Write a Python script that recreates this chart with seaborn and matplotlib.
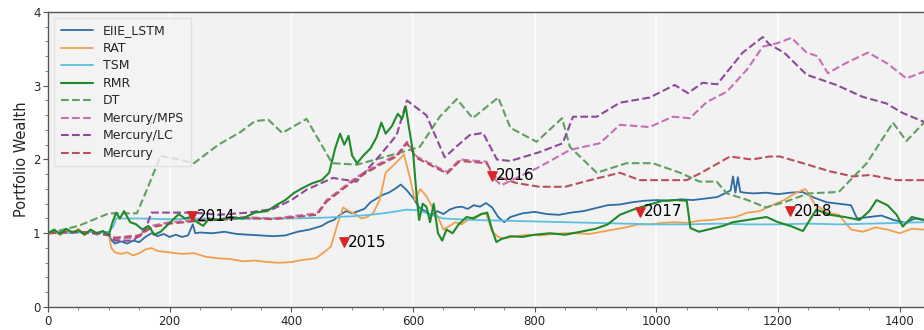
import numpy as np
import pandas as pd
import matplotlib
matplotlib.use("Agg")
import matplotlib.pyplot as plt
import seaborn as sns
from matplotlib.ticker import MultipleLocator

# ---------------- data ----------------
eiie = [(0,1.00),(10,1.03),(20,0.98),(30,1.04),(40,1.00),(50,1.05),(60,0.99),(70,1.03),(80,0.98),(90,1.02),
        (100,0.97),(105,0.90),(110,0.86),(120,0.89),(130,0.86),(140,0.90),(150,0.88),(160,0.95),(170,1.00),(180,0.96),
        (190,0.99),(200,0.95),(210,0.98),(220,0.95),(230,0.97),(238,1.12),(242,1.00),(250,1.01),(270,1.00),(290,1.02),
        (310,0.99),(330,0.98),(350,0.97),(370,0.96),(390,0.97),(410,1.02),(430,1.05),(450,1.10),(460,1.15),(470,1.18),
        (480,1.25),(490,1.30),(500,1.27),(510,1.30),(520,1.33),(530,1.42),(540,1.47),(550,1.52),(560,1.55),(570,1.60),
        (580,1.66),(590,1.58),(600,1.48),(610,1.35),(620,1.30),(630,1.24),(640,1.30),(650,1.26),(660,1.32),(670,1.35),
        (680,1.36),(690,1.33),(700,1.38),(710,1.36),(720,1.41),(730,1.35),(740,1.22),(750,1.15),(760,1.22),(780,1.27),
        (800,1.29),(820,1.26),(840,1.25),(860,1.28),(880,1.30),(900,1.34),(920,1.38),(940,1.39),(960,1.42),(980,1.44),
        (1000,1.45),(1020,1.44),(1040,1.46),(1060,1.45),(1080,1.47),(1100,1.49),(1115,1.55),(1122,1.58),(1126,1.77),
        (1130,1.55),(1134,1.76),(1138,1.56),(1145,1.55),(1160,1.54),(1180,1.55),(1200,1.53),(1220,1.55),(1240,1.56),
        (1260,1.48),(1280,1.42),(1300,1.40),(1320,1.38),(1330,1.20),(1350,1.22),(1370,1.24),(1390,1.18),(1410,1.14),
        (1425,1.20),(1440,1.18)]

rat = [(0,1.00),(10,1.04),(20,0.98),(30,1.05),(40,1.00),(50,1.06),(60,0.98),(70,1.04),(80,0.99),(90,1.02),
       (100,0.97),(104,0.80),(110,0.74),(120,0.72),(130,0.74),(140,0.70),(150,0.73),(160,0.78),(170,0.80),(180,0.76),
       (190,0.75),(200,0.74),(220,0.72),(240,0.73),(260,0.68),(280,0.66),(300,0.65),(320,0.62),(340,0.63),(360,0.61),
       (380,0.60),(400,0.61),(420,0.64),(440,0.66),(455,0.75),(465,0.82),(475,1.10),(485,1.35),(495,1.30),(505,1.26),
       (515,1.20),(525,1.22),(535,1.28),(545,1.45),(555,1.82),(565,1.90),(575,1.98),(585,2.07),(595,1.75),(603,1.45),
       (612,1.60),(622,1.50),(632,1.35),(642,1.20),(650,1.05),(660,1.10),(670,1.15),(680,1.12),(690,1.18),(700,1.22),
       (710,1.25),(720,1.27),(730,1.02),(740,0.95),(750,0.93),(770,0.96),(790,0.98),(810,0.97),(830,0.99),(850,1.00),
       (870,1.00),(890,0.99),(910,1.02),(930,1.05),(950,1.08),(970,1.12),(990,1.12),(1010,1.14),(1030,1.15),(1050,1.14),
       (1070,1.17),(1090,1.18),(1110,1.20),(1130,1.22),(1150,1.28),(1170,1.30),(1190,1.38),(1210,1.45),(1230,1.55),
       (1245,1.60),(1260,1.40),(1280,1.28),(1300,1.25),(1320,1.05),(1340,1.02),(1360,1.08),(1380,1.05),(1400,1.00),
       (1420,1.06),(1440,1.05)]

tsm = [(0,1.00),(20,1.01),(40,1.00),(60,1.02),(80,1.01),(100,1.02),(108,1.10),(112,1.20),(150,1.20),(200,1.19),
       (250,1.20),(300,1.19),(350,1.20),(400,1.20),(450,1.21),(500,1.23),(530,1.25),(560,1.28),(590,1.32),(610,1.31),
       (630,1.25),(650,1.20),(700,1.18),(750,1.17),(800,1.16),(850,1.15),(900,1.14),(950,1.13),(1000,1.12),(1050,1.12),
       (1100,1.13),(1150,1.12),(1200,1.12),(1250,1.13),(1300,1.12),(1350,1.13),(1400,1.14),(1440,1.15)]

rmr = [(0,1.00),(10,1.05),(20,0.99),(30,1.06),(40,1.01),(50,1.04),(60,0.98),(70,1.05),(80,1.00),(90,1.03),
       (100,0.98),(106,1.15),(112,1.28),(118,1.20),(125,1.30),(135,1.15),(145,1.12),(155,1.05),(165,1.10),(175,0.98),
       (185,1.02),(195,1.10),(205,1.18),(215,1.26),(225,1.20),(235,1.22),(245,1.15),(255,1.10),(265,1.20),(280,1.18),
       (300,1.22),(320,1.20),(340,1.28),(360,1.30),(375,1.38),(390,1.45),(405,1.55),(420,1.62),(435,1.68),(450,1.72),
       (462,1.82),(472,2.15),(480,2.35),(487,2.20),(494,2.32),(500,2.05),(508,1.95),(518,2.05),(530,2.15),(540,2.30),
       (548,2.50),(555,2.35),(565,2.45),(575,2.62),(582,2.55),(588,2.72),(593,2.45),(600,2.10),(606,1.50),(610,1.18),
       (616,1.40),(622,1.36),(628,1.15),(634,1.40),(641,1.00),(648,0.90),(655,1.05),(665,1.00),(675,1.12),(688,1.22),
       (700,1.20),(712,1.26),(722,1.28),(730,1.05),(737,0.88),(745,0.92),(760,0.96),(780,0.95),(800,0.98),(825,1.00),
       (850,0.98),(875,1.02),(900,1.06),(920,1.12),(940,1.25),(962,1.32),(985,1.38),(1010,1.44),(1033,1.45),(1050,1.44),
       (1056,1.07),(1070,1.02),(1090,1.06),(1110,1.10),(1126,1.15),(1150,1.18),(1181,1.22),(1200,1.15),(1220,1.10),
       (1241,1.03),(1263,1.32),(1285,1.25),(1310,1.22),(1334,1.18),(1350,1.30),(1362,1.45),(1380,1.38),(1395,1.25),
       (1405,1.09),(1420,1.22),(1440,1.18)]

dt = [(0,1.00),(50,1.10),(100,1.27),(146,1.27),(163,1.60),(185,2.05),(215,2.00),(240,1.95),(280,2.20),(316,2.37),
      (340,2.52),(362,2.54),(385,2.36),(425,2.55),(467,1.95),(508,1.93),(560,2.05),(611,2.17),(644,2.58),(672,2.82),
      (698,2.56),(740,2.84),(760,2.43),(803,2.24),(845,2.56),(858,2.17),(902,1.82),(951,1.95),(994,1.95),(1039,1.82),
      (1071,1.70),(1099,1.70),(1116,1.54),(1150,1.45),(1180,1.35),(1210,1.42),(1250,1.54),(1300,1.56),(1346,1.95),
      (1389,2.50),(1411,2.25),(1440,2.50)]

mps = [(0,1.00),(50,1.01),(100,0.98),(110,0.92),(150,0.95),(170,1.10),(200,1.15),(250,1.18),(300,1.20),(316,1.22),
       (370,1.20),(442,1.27),(458,1.45),(507,1.76),(546,1.95),(573,2.06),(590,2.24),(606,2.04),(656,1.83),(677,2.00),
       (721,1.97),(731,1.76),(745,1.65),(808,1.90),(858,2.13),(907,2.22),(940,2.47),(989,2.44),(1027,2.58),(1055,2.56),
       (1083,2.78),(1116,2.92),(1149,3.22),(1175,3.53),(1200,3.58),(1222,3.65),(1247,3.45),(1265,3.40),(1282,3.17),
       (1310,3.30),(1348,3.45),(1380,3.30),(1411,3.10),(1440,3.19)]

lc = [(0,1.00),(40,1.02),(80,1.00),(100,0.97),(110,0.90),(140,0.90),(160,1.05),(170,1.28),(240,1.28),(280,1.25),
      (330,1.28),(370,1.33),(400,1.45),(425,1.59),(468,1.75),(507,1.70),(546,2.06),(573,2.33),(590,2.80),(622,2.60),
      (652,2.03),(672,2.18),(693,2.33),(715,2.36),(738,2.00),(760,1.98),(808,2.10),(846,2.22),(863,2.58),(902,2.58),
      (940,2.77),(989,2.84),(1030,3.01),(1052,2.90),(1076,3.04),(1100,3.02),(1142,3.45),(1175,3.66),(1186,3.56),
      (1210,3.45),(1247,3.15),(1296,3.01),(1339,2.85),(1378,2.76),(1405,2.63),(1440,2.51)]

mercury = [(0,1.00),(50,1.02),(100,0.99),(110,0.94),(150,0.97),(170,1.08),(200,1.13),(250,1.17),(300,1.19),
           (316,1.21),(370,1.19),(442,1.25),(458,1.43),(507,1.74),(546,1.93),(573,2.04),(590,2.22),(606,2.02),
           (656,1.81),(677,1.98),(721,1.95),(735,1.76),(745,1.75),(770,1.68),(808,1.63),(850,1.63),(891,1.72),
           (940,1.82),(973,1.72),(1050,1.72),(1076,1.83),(1121,2.04),(1157,2.00),(1186,2.04),(1203,2.04),(1241,1.95),
           (1285,1.84),(1323,1.77),(1351,1.79),(1395,1.72),(1440,1.72)]

ann_x = [237, 486, 730, 973, 1219]
ann_y = [1.23, 0.88, 1.78, 1.29, 1.30]
ann_labels = ["2014", "2015", "2016", "2017", "2018"]

series_names = ["EIIE_LSTM", "RAT", "TSM", "RMR", "DT", "Mercury/MPS", "Mercury/LC", "Mercury"]
series_data = [eiie, rat, tsm, rmr, dt, mps, lc, mercury]
series_colors = ["#2e6da4", "#f0a04e", "#5ec0e0", "#1f8a2a", "#5f9f5f", "#c86eb4", "#8e4a9a", "#b8505c"]
series_styles = ["-", "-", "-", "-", "--", "--", "--", "--"]
series_widths = [1.3, 1.3, 1.3, 1.5, 1.5, 1.5, 1.5, 1.5]

# ---------------- plot ----------------
sns.set_theme(style="white")
plt.rcParams["font.family"] = ["DejaVu Sans"]

fig = plt.figure(figsize=(9.24, 3.30), dpi=100)
ax = fig.add_axes([0.052, 0.0697, 0.948, 0.894])
ax.set_facecolor("#f2f2f2")

for name, data, col, ls, lw in zip(series_names, series_data, series_colors, series_styles, series_widths):
    df = pd.DataFrame(data, columns=["t", "w"])
    sns.lineplot(data=df, x="t", y="w", ax=ax, color=col, linestyle=ls, linewidth=lw,
                 label=name, sort=False, estimator=None, zorder=3 if name == "RMR" else 2)

ax.scatter(ann_x, ann_y, marker="v", color="#d62728", s=45, zorder=5)
for xv, yv, lab in zip(ann_x, ann_y, ann_labels):
    ax.text(xv + 7, yv, lab, fontsize=11, color="black", va="center", ha="left", zorder=6)

ax.set_xlim(0, 1440)
ax.set_ylim(0, 4)
ax.xaxis.set_major_locator(MultipleLocator(200))
ax.xaxis.set_minor_locator(MultipleLocator(50))
ax.yaxis.set_major_locator(MultipleLocator(1))
ax.yaxis.set_minor_locator(MultipleLocator(0.2))
ax.grid(axis="x", which="major", color="white", linewidth=1.2)
ax.grid(axis="y", visible=False)
ax.tick_params(axis="both", which="major", length=3.5, width=0.8, color="#555555", labelsize=8.5,
               direction="out", bottom=True, left=True, pad=2)
ax.tick_params(axis="both", which="minor", length=2, width=0.6, color="#777777", bottom=True, left=True)
for side in ["left", "bottom", "top"]:
    ax.spines[side].set_visible(True)
    ax.spines[side].set_color("#555555")
    ax.spines[side].set_linewidth(1.0)
ax.spines["right"].set_visible(False)

ax.set_xlabel("")
ax.set_ylabel("Portfolio Wealth", fontsize=10.5, labelpad=3)

leg = ax.legend(loc="upper left", fontsize=9, frameon=True, handlelength=2.6,
                labelspacing=0.36, borderpad=0.5, fancybox=False)
leg.get_frame().set_facecolor("#f4f4f4")
leg.get_frame().set_edgecolor("#dddddd")

fig.savefig("out.png", dpi=100)
